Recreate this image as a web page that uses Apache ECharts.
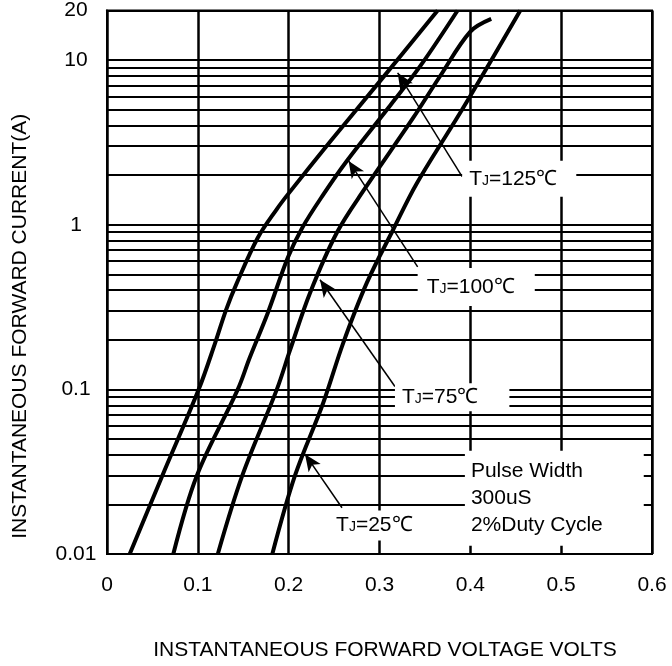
<!DOCTYPE html>
<html>
<head>
<meta charset="utf-8">
<script src="https://cdn.jsdelivr.net/npm/echarts@6/dist/echarts.min.js"></script>
<style>
html,body{margin:0;padding:0;background:#fff;}
#chart{width:672px;height:666px;}
</style>
</head>
<body>
<div id="chart"></div>
<script>
// ---- data (voltage V, current A) ----
const xTicks = [0, 0.1, 0.2, 0.3, 0.4, 0.5, 0.6];
const yTicks = [0.01, 0.1, 1, 10, 20];
const minorGrid = [0.02,0.03,0.04,0.05,0.06,0.07,0.08,0.09,0.2,0.3,0.4,0.5,0.6,0.7,0.8,0.9,2,3,4,5,6,7,8,9];
const curve125 = [[0.025,0.01],[0.061,0.030],[0.101,0.1],[0.119,0.191],[0.131,0.303],[0.143,0.443],[0.166,0.833],[0.187,1.245],[0.200,1.55],[0.246,3.21],[0.301,7.5],[0.364,20]];
const curve100 = [[0.073,0.01],[0.099,0.030],[0.144,0.1],[0.157,0.155],[0.177,0.291],[0.199,0.629],[0.215,0.959],[0.239,1.55],[0.264,2.44],[0.312,5.32],[0.345,9.21],[0.386,20]];
const curve75  = [[0.122,0.01],[0.149,0.030],[0.187,0.1],[0.2015,0.173],[0.2235,0.385],[0.253,0.894],[0.284,1.66],[0.337,4.45],[0.367,8.03],[0.400,14.9],[0.423,17.8]];
const curve25  = [[0.182,0.01],[0.207,0.030],[0.238,0.0826],[0.260,0.191],[0.286,0.443],[0.315,0.932],[0.341,1.78],[0.392,5.11],[0.455,20]];
// annotations: arrow tip, arrow tail, label anchor (left edge), text
const notes = [
  {tip:[0.320,8.37], tail:[0.391,1.96], at:[0.391,1.90], name:'125'},
  {tip:[0.266,2.44], tail:[0.342,0.554], at:[0.342,0.419], name:'100'},
  {tip:[0.2345,0.463], tail:[0.317,0.104], at:[0.317,0.0896], name:'75'},
  {tip:[0.218,0.0404], tail:[0.2587,0.0191], at:[0.250,0.0149], name:'25'}
];
const pulseAt = [0.394, 0.0218];
const pulseText = 'Pulse Width\n300uS\n2%Duty Cycle';

const FONT = '"Liberation Sans", Arial, sans-serif';
const chart = echarts.init(document.getElementById('chart'), null, {renderer:'canvas'});

function curveSeries(data){
  return {type:'line', data:data, smooth:0.35, symbol:'none', z:2,
    lineStyle:{color:'#000', width:4}, silent:true};
}

const rich = {
  t:{fontSize:21, fontFamily:FONT, color:'#000', lineHeight:24},
  j:{fontSize:14, fontFamily:FONT, color:'#000', lineHeight:16, verticalAlign:'bottom', padding:[0,0,3,0]}
};
const padFor = {'125':[6,19,6,7], '100':[7,20,7,9], '75':[2,31,2,7], '25':[3,8,3,2]};

const option = {
  animation:false,
  backgroundColor:'#fff',
  grid:{left:107, right:20, top:9, bottom:112, show:true, borderColor:'#000', borderWidth:2, backgroundColor:'transparent'},
  xAxis:{
    type:'value', min:0, max:0.6, interval:0.1,
    name:'INSTANTANEOUS FORWARD VOLTAGE VOLTS', nameLocation:'middle', nameGap:86,
    nameTextStyle:{fontSize:21, fontFamily:FONT, color:'#000', padding:[0,0,0,11]},
    axisLine:{show:true, lineStyle:{color:'#000', width:2}},
    axisTick:{show:false},
    axisLabel:{fontSize:21, fontFamily:FONT, color:'#000', margin:21,
      formatter:v=>{ const t = xTicks.find(k=>Math.abs(k-v)<1e-6); return t===undefined?'':String(t);} },
    splitLine:{show:true, lineStyle:{color:'#000', width:2.5}}
  },
  yAxis:{
    type:'log', logBase:10, min:0.01, max:20,
    name:'INSTANTANEOUS FORWARD CURRENT(A)', nameLocation:'middle', nameGap:76,
    nameTextStyle:{fontSize:21, fontFamily:FONT, color:'#000', padding:[0,88,0,0]},
    axisLine:{show:true, lineStyle:{color:'#000', width:2}},
    axisTick:{show:false},
    axisLabel:{fontSize:21, fontFamily:FONT, color:'#000', align:'center', margin:31,
      formatter:v=>{ const t = yTicks.find(k=>Math.abs(k-v)/k<1e-3); return t===undefined?'':String(t);} },
    splitLine:{show:true, lineStyle:{color:'#000', width:2}}
  },
  series:[
    Object.assign(curveSeries(curve125), {
      markLine:{silent:true, z:1, symbol:['none','none'], animation:false,
        label:{show:false}, lineStyle:{color:'#000', width:2, type:'solid'},
        data: minorGrid.map(v=>({yAxis:v}))}
    }),
    curveSeries(curve100),
    curveSeries(curve75),
    Object.assign(curveSeries(curve25), {
      markLine:{silent:true, z:6, animation:false, symbol:['arrow','none'], symbolSize:[11,17],
        label:{show:false}, lineStyle:{color:'#000', width:1.5, type:'solid'},
        data: notes.map(n=>[{coord:n.tip},{coord:n.tail}])},
      markPoint:{silent:true, z:10, animation:false, symbol:'circle', symbolSize:0,
        data: notes.map(n=>({coord:n.at,
          label:{show:true, position:'right', distance:0, backgroundColor:'#fff', padding:padFor[n.name],
            formatter:'{t|T}{j|J}{t|=' + n.name + '℃}', rich:rich}}))
          .concat([{coord:pulseAt, label:{show:true, position:'right', distance:0, backgroundColor:'#fff',
            padding:[7,41,7,6], formatter:pulseText, fontSize:21, lineHeight:27, fontFamily:FONT, color:'#000', align:'left'}}])
      }
    })
  ]
};
chart.setOption(option);
</script>
</body>
</html>
